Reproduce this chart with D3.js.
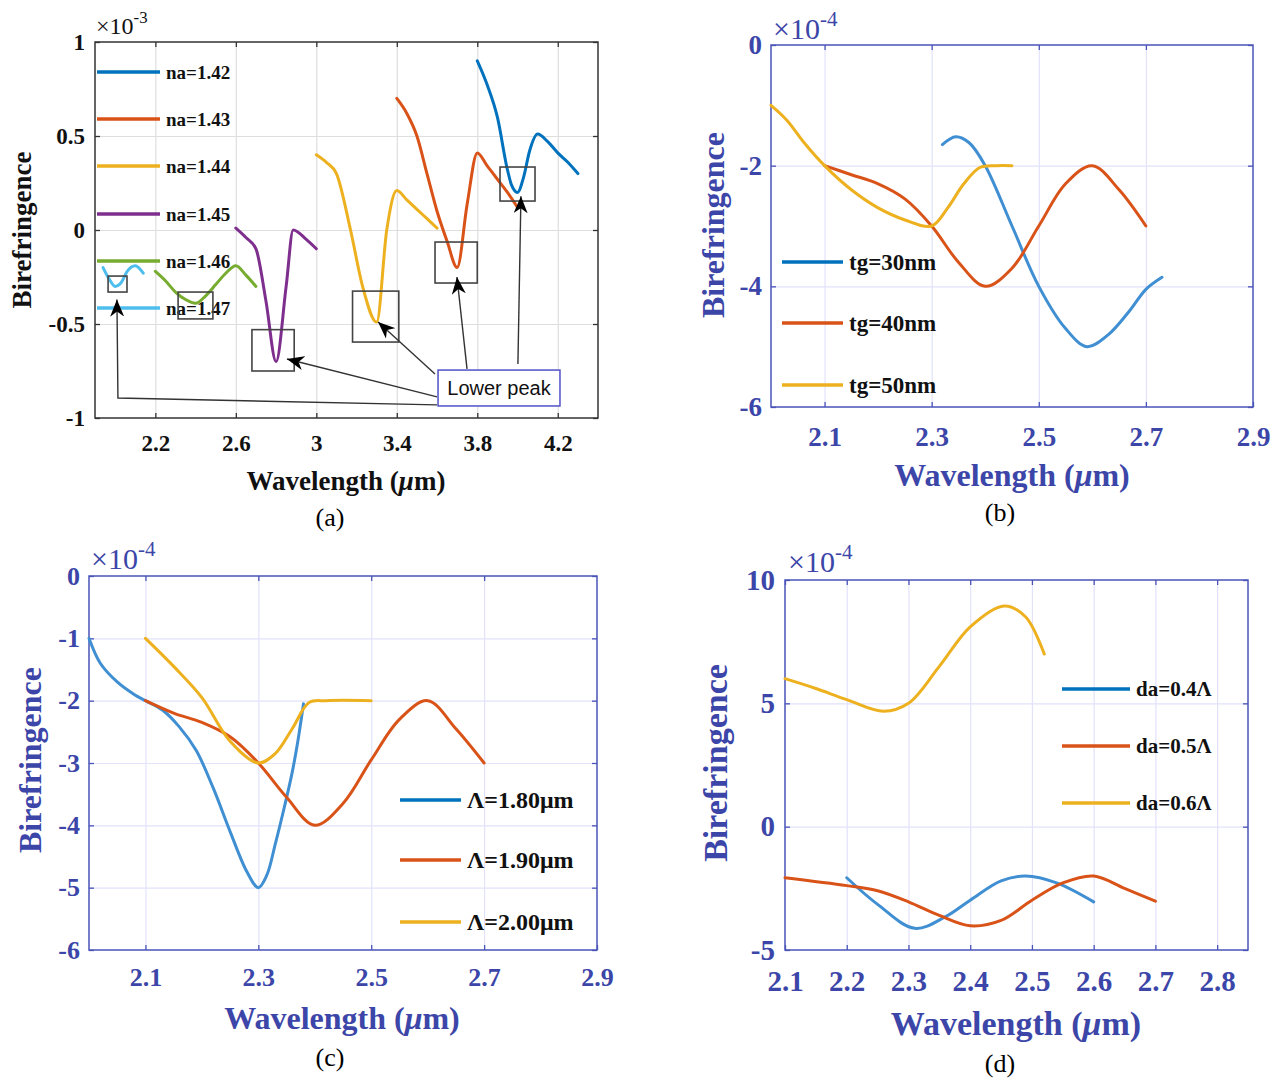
<!DOCTYPE html>
<html><head><meta charset="utf-8">
<script src="https://cdn.jsdelivr.net/npm/d3@7"></script>
<style>body{margin:0;background:#fff}</style>
</head><body>
<svg id="chart" width="1280" height="1080"></svg>
<script>
// ---------------- DATA ----------------
// Panel (a): birefringence (x1e-3) vs wavelength (um), analyte index na
const aLabels = ["na=1.42","na=1.43","na=1.44","na=1.45","na=1.46","na=1.47"];
const a142 = [[3.8,0.9],[3.85,0.77],[3.9,0.6],[3.95,0.32],[3.97,0.24],[4.0,0.2],[4.03,0.28],[4.06,0.42],[4.1,0.51],[4.15,0.47],[4.2,0.41],[4.25,0.36],[4.3,0.3]];
const a143 = [[3.4,0.7],[3.45,0.62],[3.5,0.5],[3.55,0.3],[3.6,0.1],[3.65,-0.06],[3.7,-0.2],[3.75,0.14],[3.8,0.41],[3.85,0.34],[3.9,0.27],[3.95,0.2],[4.0,0.12]];
const a144 = [[3.0,0.4],[3.05,0.36],[3.1,0.3],[3.17,0.0],[3.23,-0.3],[3.3,-0.49],[3.35,0.0],[3.4,0.21],[3.45,0.16],[3.5,0.11],[3.55,0.06],[3.6,0.01]];
const a145 = [[2.6,0.01],[2.65,-0.04],[2.7,-0.1],[2.75,-0.38],[2.8,-0.7],[2.85,-0.3],[2.885,0.0],[2.95,-0.05],[3.0,-0.1]];
const a146 = [[2.2,-0.22],[2.25,-0.27],[2.3,-0.33],[2.35,-0.37],[2.4,-0.39],[2.45,-0.35],[2.5,-0.29],[2.55,-0.23],[2.6,-0.19],[2.65,-0.24],[2.7,-0.3]];
const a147 = [[1.94,-0.2],[1.97,-0.26],[2.0,-0.3],[2.03,-0.28],[2.06,-0.22],[2.1,-0.19],[2.14,-0.23]];
const aXTicks = [2.2,2.6,3,3.4,3.8,4.2];
const aYTicks = [-1,-0.5,0,0.5,1];
// annotation boxes [x0,x1,y0,y1] in data units
const aBoxes = [[1.965,2.059,-0.33,-0.245],[2.313,2.486,-0.473,-0.33],[2.68,2.89,-0.75,-0.53],[3.18,3.41,-0.596,-0.325],[3.59,3.80,-0.282,-0.064],[3.913,4.087,0.154,0.335]];
const aNoteBox = [3.605,4.211,-0.936,-0.745];
const aNoteText = "Lower peak";
// arrows: polyline points, last is the tip
const aArrows = [
  [[3.6,-0.93],[2.014,-0.894],[2.009,-0.37]],
  [[3.6,-0.888],[2.854,-0.686]],
  [[3.59,-0.766],[3.307,-0.489]],
  [[3.749,-0.739],[3.699,-0.25]],
  [[4.002,-0.713],[4.017,0.18]]
];

// Panel (b): x1e-4, gold thickness tg
const bLabels = ["tg=30nm","tg=40nm","tg=50nm"];
const b30 = [[2.32,-1.65],[2.345,-1.52],[2.37,-1.62],[2.4,-2.0],[2.45,-3.0],[2.5,-4.0],[2.55,-4.7],[2.59,-5.0],[2.63,-4.8],[2.67,-4.4],[2.7,-4.05],[2.73,-3.85]];
const b40 = [[2.1,-2.0],[2.15,-2.15],[2.2,-2.3],[2.25,-2.55],[2.3,-3.0],[2.35,-3.6],[2.4,-4.0],[2.45,-3.7],[2.5,-3.0],[2.55,-2.3],[2.6,-2.0],[2.65,-2.4],[2.7,-3.0]];
const b50 = [[2.0,-1.0],[2.03,-1.25],[2.06,-1.6],[2.1,-2.0],[2.15,-2.4],[2.2,-2.7],[2.25,-2.9],[2.3,-3.0],[2.33,-2.7],[2.36,-2.3],[2.39,-2.03],[2.42,-2.0],[2.45,-2.0]];
const bXTicks = [2.1,2.3,2.5,2.7,2.9];
const bYTicks = [-6,-4,-2,0];

// Panel (c): x1e-4, pitch
const cLabels = ["\u039B=1.80\u03BCm","\u039B=1.90\u03BCm","\u039B=2.00\u03BCm"];
const c180 = [[2.0,-1.0],[2.02,-1.4],[2.05,-1.7],[2.08,-1.9],[2.1,-2.0],[2.13,-2.15],[2.16,-2.42],[2.19,-2.8],[2.22,-3.4],[2.25,-4.1],[2.28,-4.75],[2.3,-5.0],[2.315,-4.8],[2.33,-4.3],[2.345,-3.75],[2.36,-3.15],[2.37,-2.65],[2.38,-2.05]];
const c190 = [[2.1,-2.0],[2.15,-2.2],[2.2,-2.35],[2.25,-2.58],[2.3,-3.0],[2.35,-3.55],[2.4,-4.0],[2.45,-3.65],[2.5,-2.95],[2.55,-2.3],[2.6,-2.0],[2.65,-2.45],[2.7,-3.0]];
const c200 = [[2.1,-1.0],[2.15,-1.45],[2.2,-1.95],[2.25,-2.65],[2.3,-3.0],[2.33,-2.85],[2.36,-2.45],[2.39,-2.03],[2.42,-2.0],[2.5,-2.0]];
const cXTicks = [2.1,2.3,2.5,2.7,2.9];
const cYTicks = [-6,-5,-4,-3,-2,-1,0];

// Panel (d): x1e-4, air hole diameter
const dLabels = ["da=0.4\u039B","da=0.5\u039B","da=0.6\u039B"];
const d04 = [[2.2,-2.07],[2.25,-3.15],[2.31,-4.12],[2.36,-3.65],[2.4,-2.98],[2.45,-2.2],[2.49,-2.0],[2.54,-2.28],[2.6,-3.05]];
const d05 = [[2.1,-2.07],[2.2,-2.39],[2.25,-2.6],[2.3,-3.05],[2.35,-3.6],[2.4,-4.02],[2.45,-3.8],[2.5,-2.98],[2.55,-2.28],[2.6,-2.0],[2.65,-2.5],[2.7,-3.02]];
const d06 = [[2.1,6.0],[2.15,5.6],[2.2,5.15],[2.26,4.68],[2.3,5.0],[2.35,6.5],[2.4,8.1],[2.455,8.95],[2.49,8.5],[2.52,7.0]];
const dXTicks = [2.1,2.2,2.3,2.4,2.5,2.6,2.7,2.8];
const dYTicks = [-5,0,5,10];

// ---------------- DRAWING ----------------
const svg = d3.select("#chart");
const SERIF = "'Liberation Serif','Times New Roman',serif";
const SANS = "'Liberation Sans',Arial,sans-serif";
const C = {blue:"#0072BD", blueS:"#3f8fd2", orange:"#D95319", yellow:"#EDB120", purple:"#7E2F8E", green:"#77AC30", lblue:"#4DBEEE"};

svg.append("defs").append("marker")
  .attr("id","arr").attr("markerUnits","userSpaceOnUse")
  .attr("markerWidth",18).attr("markerHeight",14).attr("refX",17).attr("refY",7)
  .attr("orient","auto")
  .append("path").attr("d","M0,0 L17,7 L0,14 L5,7 Z").attr("fill","#000");

function panel(cfg){
  const g = svg.append("g");
  const x = d3.scaleLinear().domain(cfg.xDom).range([cfg.left, cfg.left+cfg.w]);
  const y = d3.scaleLinear().domain(cfg.yDom).range([cfg.top+cfg.h, cfg.top]);
  const bottom = cfg.top+cfg.h, right = cfg.left+cfg.w;
  // grid
  g.append("g").attr("transform",`translate(0,${bottom})`)
    .call(d3.axisBottom(x).tickValues(cfg.xGrid).tickSize(-cfg.h).tickFormat(""))
    .call(s=>{s.select(".domain").remove(); s.selectAll("line").attr("stroke",cfg.grid).attr("stroke-width",1.2);});
  g.append("g").attr("transform",`translate(${cfg.left},0)`)
    .call(d3.axisLeft(y).tickValues(cfg.yGrid).tickSize(-cfg.w).tickFormat(""))
    .call(s=>{s.select(".domain").remove(); s.selectAll("line").attr("stroke",cfg.grid).attr("stroke-width",1.2);});
  // box
  g.append("rect").attr("x",cfg.left).attr("y",cfg.top).attr("width",cfg.w).attr("height",cfg.h)
    .attr("fill","none").attr("stroke",cfg.axis).attr("stroke-width",1.5);
  const styleAx = s=>{ s.select(".domain").remove(); s.selectAll("line").attr("stroke",cfg.axis).attr("stroke-width",1.3);
     s.selectAll("text").attr("fill",cfg.text).attr("font-family",SERIF).attr("font-weight","bold").attr("font-size",cfg.tickFont);};
  g.append("g").attr("transform",`translate(0,${bottom})`)
    .call(d3.axisBottom(x).tickValues(cfg.xTicks).tickSizeInner(-5).tickSizeOuter(0).tickPadding(cfg.xPad).tickFormat(d=>String(d))).call(styleAx);
  g.append("g").attr("transform",`translate(0,${cfg.top})`)
    .call(d3.axisTop(x).tickValues(cfg.xTicks.filter(v=>v<cfg.xDom[1])).tickSizeInner(-5).tickSizeOuter(0).tickFormat("")).call(styleAx);
  g.append("g").attr("transform",`translate(${cfg.left},0)`)
    .call(d3.axisLeft(y).tickValues(cfg.yTicks).tickSizeInner(-5).tickSizeOuter(0).tickPadding(cfg.yPad).tickFormat(d=>String(d))).call(styleAx);
  g.append("g").attr("transform",`translate(${right},0)`)
    .call(d3.axisRight(y).tickValues(cfg.yTicks).tickSizeInner(-5).tickSizeOuter(0).tickFormat("")).call(styleAx);
  // exponent
  const ex = g.append("text").attr("x",cfg.expX).attr("y",cfg.expY).attr("fill",cfg.text)
    .attr("font-family",SERIF).attr("font-size",cfg.expFont);
  ex.append("tspan").text("\u00D710");
  ex.append("tspan").attr("dy",-cfg.expFont*0.45).attr("font-size",cfg.expFont*0.7).text(cfg.exp);
  // axis labels
  g.append("text").attr("transform",`translate(${cfg.yLabX},${cfg.yLabY}) rotate(-90)`)
    .attr("text-anchor","middle").attr("dominant-baseline","central")
    .attr("font-family",SERIF).attr("font-weight","bold").attr("font-size",cfg.labFont).attr("fill",cfg.text)
    .text("Birefringence");
  const xl = g.append("text").attr("x",cfg.xLabX).attr("y",cfg.xLabY).attr("text-anchor","middle")
    .attr("font-family",SERIF).attr("font-weight","bold").attr("font-size",cfg.labFont).attr("fill",cfg.text);
  xl.append("tspan").text("Wavelength (");
  xl.append("tspan").attr("font-style","italic").text("\u03BC");
  xl.append("tspan").text("m)");
  g.append("text").attr("x",cfg.capX).attr("y",cfg.capY).attr("text-anchor","middle")
    .attr("font-family",SERIF).attr("font-size",26).attr("fill","#000").text(cfg.caption);
  // lines
  const line = d3.line().x(d=>x(d[0])).y(d=>y(d[1])).curve(cfg.curve);
  cfg.series.forEach(s=>{
    g.append("path").datum(s.data).attr("d",line).attr("fill","none")
      .attr("stroke",s.color).attr("stroke-width",3).attr("stroke-linejoin","round").attr("stroke-linecap","round");
  });
  // legend
  cfg.legend.forEach((l,i)=>{
    const ly = cfg.legY[i];
    g.append("line").attr("x1",cfg.legX0).attr("x2",cfg.legX1).attr("y1",ly).attr("y2",ly)
      .attr("stroke",l.color).attr("stroke-width",3.5);
    g.append("text").attr("x",cfg.legX1+6).attr("y",ly).attr("dominant-baseline","central")
      .attr("font-family",SERIF).attr("font-weight","bold").attr("font-size",cfg.legFont).attr("fill","#111")
      .text(l.label);
  });
  return {g,x,y};
}

const smooth = d3.curveCatmullRom.alpha(0.5);

// Panel (a)
const A = panel({left:95, top:42, w:503, h:376, xDom:[1.9,4.4], yDom:[-1,1], curve:d3.curveMonotoneX,
  xTicks:aXTicks, yTicks:aYTicks, xGrid:aXTicks, yGrid:[-0.5,0,0.5],
  grid:"#dedede", axis:"#333", text:"#111", tickFont:23, xPad:17, yPad:10,
  exp:"-3", expX:96, expY:34, expFont:24,
  yLabX:22, yLabY:230, xLabX:346, xLabY:490, labFont:27, capX:330, capY:526, caption:"(a)",
  series:[{data:a142,color:C.blue},{data:a143,color:C.orange},{data:a144,color:C.yellow},{data:a145,color:C.purple},{data:a146,color:C.green},{data:a147,color:C.lblue}],
  legend:aLabels.map((l,i)=>({label:l,color:[C.blue,C.orange,C.yellow,C.purple,C.green,C.lblue][i]})),
  legX0:97, legX1:160, legY:[72,119,166,214,261,308], legFont:19});
// annotations (a)
aBoxes.forEach(b=>{
  A.g.append("rect").attr("x",A.x(b[0])).attr("y",A.y(b[3])).attr("width",A.x(b[1])-A.x(b[0])).attr("height",A.y(b[2])-A.y(b[3]))
    .attr("fill","none").attr("stroke","#444").attr("stroke-width",1.6);
});
aArrows.forEach(a=>{
  A.g.append("path").attr("d",d3.line().x(d=>A.x(d[0])).y(d=>A.y(d[1]))(a))
    .attr("fill","none").attr("stroke","#333").attr("stroke-width",1.4).attr("marker-end","url(#arr)");
});
A.g.append("rect").attr("x",A.x(aNoteBox[0])).attr("y",A.y(aNoteBox[3])).attr("width",A.x(aNoteBox[1])-A.x(aNoteBox[0]))
  .attr("height",A.y(aNoteBox[2])-A.y(aNoteBox[3])).attr("fill","#fff").attr("stroke","#5050c8").attr("stroke-width",1.5);
A.g.append("text").attr("x",(A.x(aNoteBox[0])+A.x(aNoteBox[1]))/2).attr("y",(A.y(aNoteBox[2])+A.y(aNoteBox[3]))/2)
  .attr("text-anchor","middle").attr("dominant-baseline","central").attr("font-family",SANS).attr("font-size",20).attr("fill","#111").text(aNoteText);

const BLUE_TXT = "#3c46a8", BLUE_AX = "#4a54b8", BLUE_GRID = "#e2e2fb";
// Panel (b)
panel({left:771, top:45, w:482, h:362, xDom:[2.0,2.9], yDom:[-6,0], curve:smooth,
  xTicks:bXTicks, yTicks:bYTicks, xGrid:[2.1,2.3,2.5,2.7], yGrid:[-4,-2],
  grid:BLUE_GRID, axis:BLUE_AX, text:BLUE_TXT, tickFont:27, xPad:20, yPad:9,
  exp:"-4", expX:773, expY:39, expFont:30,
  yLabX:713, yLabY:225, xLabX:1012, xLabY:486, labFont:32, capX:1000, capY:521, caption:"(b)",
  series:[{data:b30,color:C.blueS},{data:b40,color:C.orange},{data:b50,color:C.yellow}],
  legend:bLabels.map((l,i)=>({label:l,color:[C.blue,C.orange,C.yellow][i]})),
  legX0:782, legX1:843, legY:[262,323,385], legFont:23});

// Panel (c)
panel({left:89, top:576, w:508, h:374, xDom:[2.0,2.9], yDom:[-6,0], curve:smooth,
  xTicks:cXTicks, yTicks:cYTicks, xGrid:[2.1,2.3,2.5,2.7], yGrid:[-5,-4,-3,-2,-1],
  grid:BLUE_GRID, axis:BLUE_AX, text:BLUE_TXT, tickFont:26, xPad:18, yPad:9,
  exp:"-4", expX:91, expY:569, expFont:30,
  yLabX:30, yLabY:760, xLabX:342, xLabY:1029, labFont:32, capX:330, capY:1066, caption:"(c)",
  series:[{data:c180,color:C.blueS},{data:c190,color:C.orange},{data:c200,color:C.yellow}],
  legend:cLabels.map((l,i)=>({label:l,color:[C.blue,C.orange,C.yellow][i]})),
  legX0:400, legX1:461, legY:[800,860,922], legFont:24});

// Panel (d)
panel({left:785, top:580, w:463, h:370, xDom:[2.1,2.85], yDom:[-5,10], curve:smooth,
  xTicks:dXTicks, yTicks:dYTicks, xGrid:[2.2,2.3,2.4,2.5,2.6,2.7,2.8], yGrid:[0,5],
  grid:BLUE_GRID, axis:BLUE_AX, text:BLUE_TXT, tickFont:29, xPad:20, yPad:10,
  exp:"-4", expX:788, expY:572, expFont:30,
  yLabX:715, yLabY:763, xLabX:1016, xLabY:1035, labFont:34, capX:1000, capY:1072, caption:"(d)",
  series:[{data:d04,color:C.blueS},{data:d05,color:C.orange},{data:d06,color:C.yellow}],
  legend:dLabels.map((l,i)=>({label:l,color:[C.blue,C.orange,C.yellow][i]})),
  legX0:1062, legX1:1130, legY:[689,746,803], legFont:21});
</script>
</body></html>
